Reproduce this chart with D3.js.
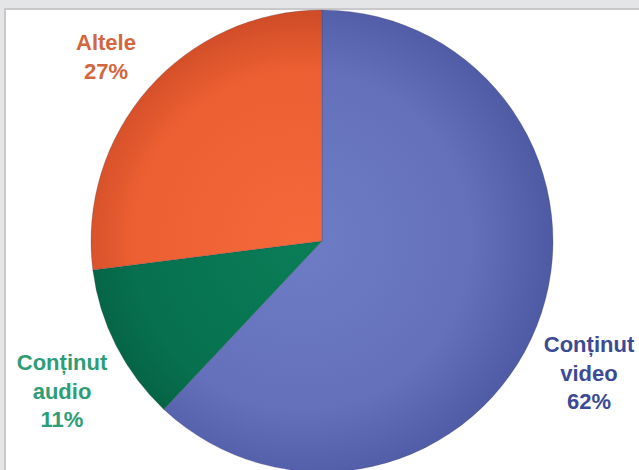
<!DOCTYPE html>
<html><head><meta charset="utf-8">
<script src="https://cdn.jsdelivr.net/npm/d3@7/dist/d3.min.js"></script>
<style>html,body{margin:0;padding:0;background:#e4e5e7;}svg{display:block;}</style>
</head><body>
<script>
const categories = ["Conținut video", "Conținut audio", "Altele"];
const values = [62, 11, 27];
const labelLines = [["Conținut", "video", "62%"], ["Conținut", "audio", "11%"], ["Altele", "27%"]];
const baseColors = ["#6470ba", "#07704e", "#ec5f32"];
const lightColors = ["#6e7cc6", "#0a7d57", "#f4683a"];
const darkColors = ["#4c57a2", "#035a3e", "#bf4222"];
const labelColors = ["#3c4a96", "#2e9c76", "#d4663e"];

const W = 639, H = 470;
const svg = d3.select("body").append("svg").attr("width", W).attr("height", H);
// frame
svg.append("rect").attr("x", 0).attr("y", 0).attr("width", W).attr("height", H).attr("fill", "#e4e5e7");
svg.append("rect").attr("x", 4).attr("y", 8).attr("width", W).attr("height", H).attr("fill", "#c9c9cb");
svg.append("rect").attr("x", 6).attr("y", 10).attr("width", W).attr("height", H).attr("fill", "#ffffff");

const cx = 322, cy = 241, r = 231;
const defs = svg.append("defs");
categories.forEach((c, i) => {
  const g = defs.append("radialGradient").attr("id", "g" + i)
    .attr("gradientUnits", "userSpaceOnUse")
    .attr("cx", -20).attr("cy", 0).attr("r", r + 30)
    .attr("fx", -20).attr("fy", 0);
  g.append("stop").attr("offset", "0%").attr("stop-color", lightColors[i]);
  g.append("stop").attr("offset", "65%").attr("stop-color", baseColors[i]);
  g.append("stop").attr("offset", "100%").attr("stop-color", darkColors[i]);
});

const pie = d3.pie().sort(null).value(d => d)(values);
const arc = d3.arc().innerRadius(0).outerRadius(r);
const gp = svg.append("g").attr("transform", `translate(${cx},${cy})`);
gp.selectAll("path").data(pie).join("path")
  .attr("d", arc)
  .attr("fill", (d, i) => `url(#g${i})`)
  .attr("stroke", "#3a3a50").attr("stroke-opacity", 0.3).attr("stroke-width", 0.8);

// labels
const labelPos = [[589, 352], [62, 370], [106, 50]];
labelLines.forEach((lines, i) => {
  const t = svg.append("text").attr("text-anchor", "middle")
    .attr("font-family", "Liberation Sans, Arial, sans-serif")
    .attr("font-weight", "bold").attr("font-size", 22)
    .attr("fill", labelColors[i]);
  lines.forEach((l, j) => {
    t.append("tspan").attr("x", labelPos[i][0]).attr("y", labelPos[i][1] + j * 28.5).text(l);
  });
});
</script>
</body></html>
